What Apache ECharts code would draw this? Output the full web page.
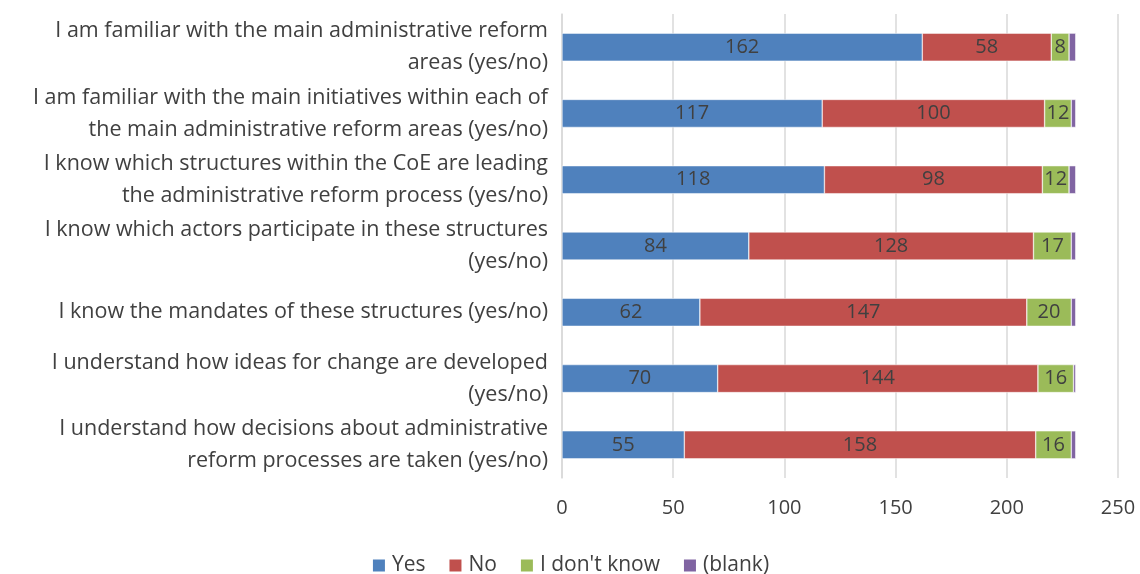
<!DOCTYPE html>
<html><head><meta charset="utf-8">
<script src="https://cdn.jsdelivr.net/npm/echarts@6/dist/echarts.min.js"></script>
<style>html,body{margin:0;padding:0;background:#fff}#c{width:1140px;height:574px}</style>
</head><body><div id="c"></div>
<script>
const categories = [
  "I am familiar with the main administrative reform\nareas (yes/no)",
  "I am familiar with the main initiatives within each of\nthe main administrative reform areas (yes/no)",
  "I know which structures within the CoE are leading\nthe administrative reform process (yes/no)",
  "I know which actors participate in these structures\n(yes/no)",
  "I know the mandates of these structures (yes/no)",
  "I understand how ideas for change are developed\n(yes/no)",
  "I understand how decisions about administrative\nreform processes are taken (yes/no)"
];
const seriesNames = ["Yes", "No", "I don't know", "(blank)"];
const yesValues = [162, 117, 118, 84, 62, 70, 55];
const noValues = [58, 100, 98, 128, 147, 144, 158];
const dontKnowValues = [8, 12, 12, 17, 20, 16, 16];
const blankValues = [3, 2, 3, 2, 2, 1, 2];
const colors = ["#4F81BD", "#C0504D", "#9BBB59", "#8064A2"];
const fontFam = "'Open Sans', 'Noto Sans', sans-serif";

const chart = echarts.init(document.getElementById('c'));
const data = [yesValues, noValues, dontKnowValues, blankValues];
chart.setOption({
  animation: false,
  textStyle: { fontFamily: fontFam },
  grid: { left: 562, right: 22, top: 14, bottom: 96, containLabel: false },
  legend: {
    top: 550, left: 'center', itemWidth: 14, itemHeight: 14, itemGap: 22,
    icon: 'rect',
    textStyle: { fontSize: 21, color: '#404040', fontFamily: fontFam, padding: [0,0,0,1] },
    data: seriesNames
  },
  xAxis: {
    type: 'value', min: 0, max: 250, interval: 50,
    axisLine: { show: false }, axisTick: { show: false },
    splitLine: { show: true, lineStyle: { color: '#D9D9D9', width: 1.5 } },
    axisLabel: { fontSize: 20, color: '#404040', margin: 20, fontFamily: fontFam }
  },
  yAxis: {
    type: 'category', inverse: true, data: categories,
    axisLine: { show: true, lineStyle: { color: '#D9D9D9', width: 1.5 } },
    axisTick: { show: false },
    axisLabel: { fontSize: 21.5, color: '#404040', margin: 14, align: 'right', lineHeight: 32, fontFamily: fontFam }
  },
  series: data.map((vals, i) => ({
    name: seriesNames[i], type: 'bar', stack: 'total', data: vals,
    barWidth: 28,
    itemStyle: { color: colors[i], borderColor: '#fff', borderWidth: 0.5 },
    label: { show: i < 3, position: 'inside', fontSize: 20, color: '#404040', fontFamily: fontFam }
  }))
});
</script></body></html>
